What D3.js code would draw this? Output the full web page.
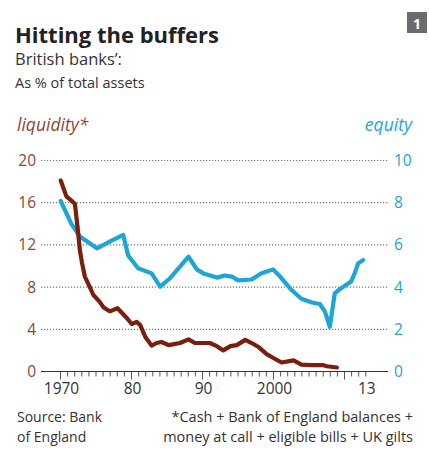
<!DOCTYPE html>
<html><head><meta charset="utf-8">
<script src="https://cdn.jsdelivr.net/npm/d3@7"></script>
<style>body{margin:0;background:#fff}svg{display:block}text{font-family:"Open Sans",Lato,sans-serif}</style>
</head><body><svg id="c" width="429" height="454"></svg>
<script>
const liquidityYears = [1970.1,1970.9,1971.6,1972.1,1972.5,1972.8,1973.1,1973.5,1974.2,1974.7,1975.6,1976.1,1977.0,1978.1,1979.5,1980.1,1980.8,1981.3,1982.0,1982.9,1983.6,1984.3,1985.3,1986.9,1988.1,1989.0,1991.1,1992.1,1993.0,1994.0,1994.9,1996.1,1997.0,1997.9,1999.1,2000.0,2001.2,2002.9,2004.0,2005.4,2007.1,2007.6,2009.0];
const liquidityValues = [18.1,16.6,16.2,15.9,13.5,11.5,10.3,9.0,8.0,7.25,6.6,6.1,5.7,6.0,5.0,4.5,4.7,4.4,3.3,2.45,2.7,2.8,2.5,2.7,3.05,2.7,2.7,2.4,2.0,2.4,2.5,3.0,2.7,2.35,1.65,1.3,0.85,1.05,0.65,0.6,0.6,0.5,0.38];
const equityYears = [1970.1,1971.6,1972.8,1975.2,1977.0,1978.9,1979.6,1981.0,1982.9,1984.1,1985.5,1986.9,1988.1,1989.3,1990.2,1992.1,1993.2,1994.2,1995.1,1997.0,1998.3,2000.0,2001.0,2002.5,2004.0,2005.5,2006.6,2007.3,2008.0,2008.7,2009.4,2011.0,2011.5,2012.0,2012.7];
const equityValues = [8.08,7.0,6.4,5.84,6.15,6.47,5.5,4.89,4.65,4.02,4.42,4.97,5.44,4.83,4.65,4.45,4.55,4.5,4.32,4.36,4.65,4.84,4.5,3.9,3.45,3.27,3.2,2.85,2.12,3.7,3.9,4.26,4.65,5.13,5.28];
const leftTicks = [0,4,8,12,16,20];
const rightTicks = [0,2,4,6,8,10];
const xLabels = [[1970,"1970"],[1980,"80"],[1990,"90"],[2000,"2000"],[2013,"13"]];

const svg = d3.select("#c");
const brown = "#7a1e0e", blue = "#1ba6d6", brownTxt = "#8c4636", blueTxt = "#23a6d8";
const x = d3.scaleLinear().domain([1970,2010]).range([60,344]);
const yL = d3.scaleLinear().domain([0,20]).range([371.5,160.5]);
const yR = d3.scaleLinear().domain([0,10]).range([371.5,160.5]);

// title block
svg.append("text").attr("x",15).attr("y",43).attr("font-size",22).attr("font-weight",700).attr("fill","#222").text("Hitting the buffers");
svg.append("text").attr("x",15).attr("y",65).attr("font-size",16.5).attr("fill","#333").text("British banks’:");
svg.append("text").attr("x",15).attr("y",88).attr("font-size",14.5).attr("fill","#333").text("As % of total assets");
svg.append("rect").attr("x",407).attr("y",12).attr("width",20).attr("height",21).attr("fill","#6b6b6b");
svg.append("text").attr("x",417).attr("y",28.5).attr("text-anchor","middle").attr("font-size",14).attr("font-weight",700).attr("fill","#fff").text("1");

svg.append("text").attr("x",17).attr("y",131).attr("font-size",17.5).attr("font-style","italic").attr("fill",brownTxt).text("liquidity*");
svg.append("text").attr("x",412).attr("y",131).attr("text-anchor","end").attr("font-size",17.5).attr("font-style","italic").attr("fill",blueTxt).text("equity");

// grid
const g = svg.append("g");
g.selectAll("line.grid").data(leftTicks.filter(d=>d>0)).join("line")
  .attr("x1",41).attr("x2",388).attr("y1",d=>yL(d)).attr("y2",d=>yL(d))
  .attr("stroke","#777").attr("stroke-width",1.2).attr("stroke-dasharray","1.2,1.8");
g.selectAll("text.l").data(leftTicks).join("text")
  .attr("x",36).attr("y",d=>yL(d)+5.5).attr("text-anchor","end").attr("font-size",15.5).attr("fill",brownTxt).text(d=>d);
g.selectAll("text.r").data(rightTicks).join("text")
  .attr("x",394).attr("y",d=>yR(d)+5.5).attr("font-size",15.5).attr("fill",blueTxt).text(d=>d);

// x axis
const xAxis = d3.axisBottom(x).tickValues(d3.range(1970,2014)).tickSize(5).tickFormat("");
const ax = svg.append("g").attr("transform","translate(0,371.5)").call(xAxis);
ax.select(".domain").remove();
ax.selectAll(".tick line").attr("stroke","#444").attr("stroke-width",0.9)
  .attr("y2",d=>d%10===0?8:5);
svg.append("line").attr("x1",41).attr("x2",388).attr("y1",371.5).attr("y2",371.5).attr("stroke","#333").attr("stroke-width",1.2);
svg.selectAll("text.xl").data(xLabels).join("text")
  .attr("x",d=>x(d[0])+1.5).attr("y",393.5).attr("text-anchor","middle").attr("font-size",15.5).attr("fill","#333").text(d=>d[1]);

// lines
const lineL = d3.line().x((d,i)=>x(liquidityYears[i])).y(d=>yL(d));
const lineR = d3.line().x((d,i)=>x(equityYears[i])).y(d=>yR(d));
svg.append("path").datum(equityValues).attr("d",lineR).attr("fill","none").attr("stroke",blue).attr("stroke-width",4.2).attr("stroke-linejoin","round").attr("stroke-linecap","round");
svg.append("path").datum(liquidityValues).attr("d",lineL).attr("fill","none").attr("stroke",brown).attr("stroke-width",4.2).attr("stroke-linejoin","round").attr("stroke-linecap","round");

// footnotes
svg.append("text").attr("x",17).attr("y",422).attr("font-size",14).attr("fill","#333").text("Source: Bank");
svg.append("text").attr("x",17).attr("y",442).attr("font-size",14).attr("fill","#333").text("of England");
svg.append("text").attr("x",413).attr("y",422).attr("text-anchor","end").attr("font-size",14.5).attr("fill","#333").text("*Cash + Bank of England balances +");
svg.append("text").attr("x",413).attr("y",442).attr("text-anchor","end").attr("font-size",14.5).attr("fill","#333").text("money at call + eligible bills + UK gilts");
</script></body></html>
